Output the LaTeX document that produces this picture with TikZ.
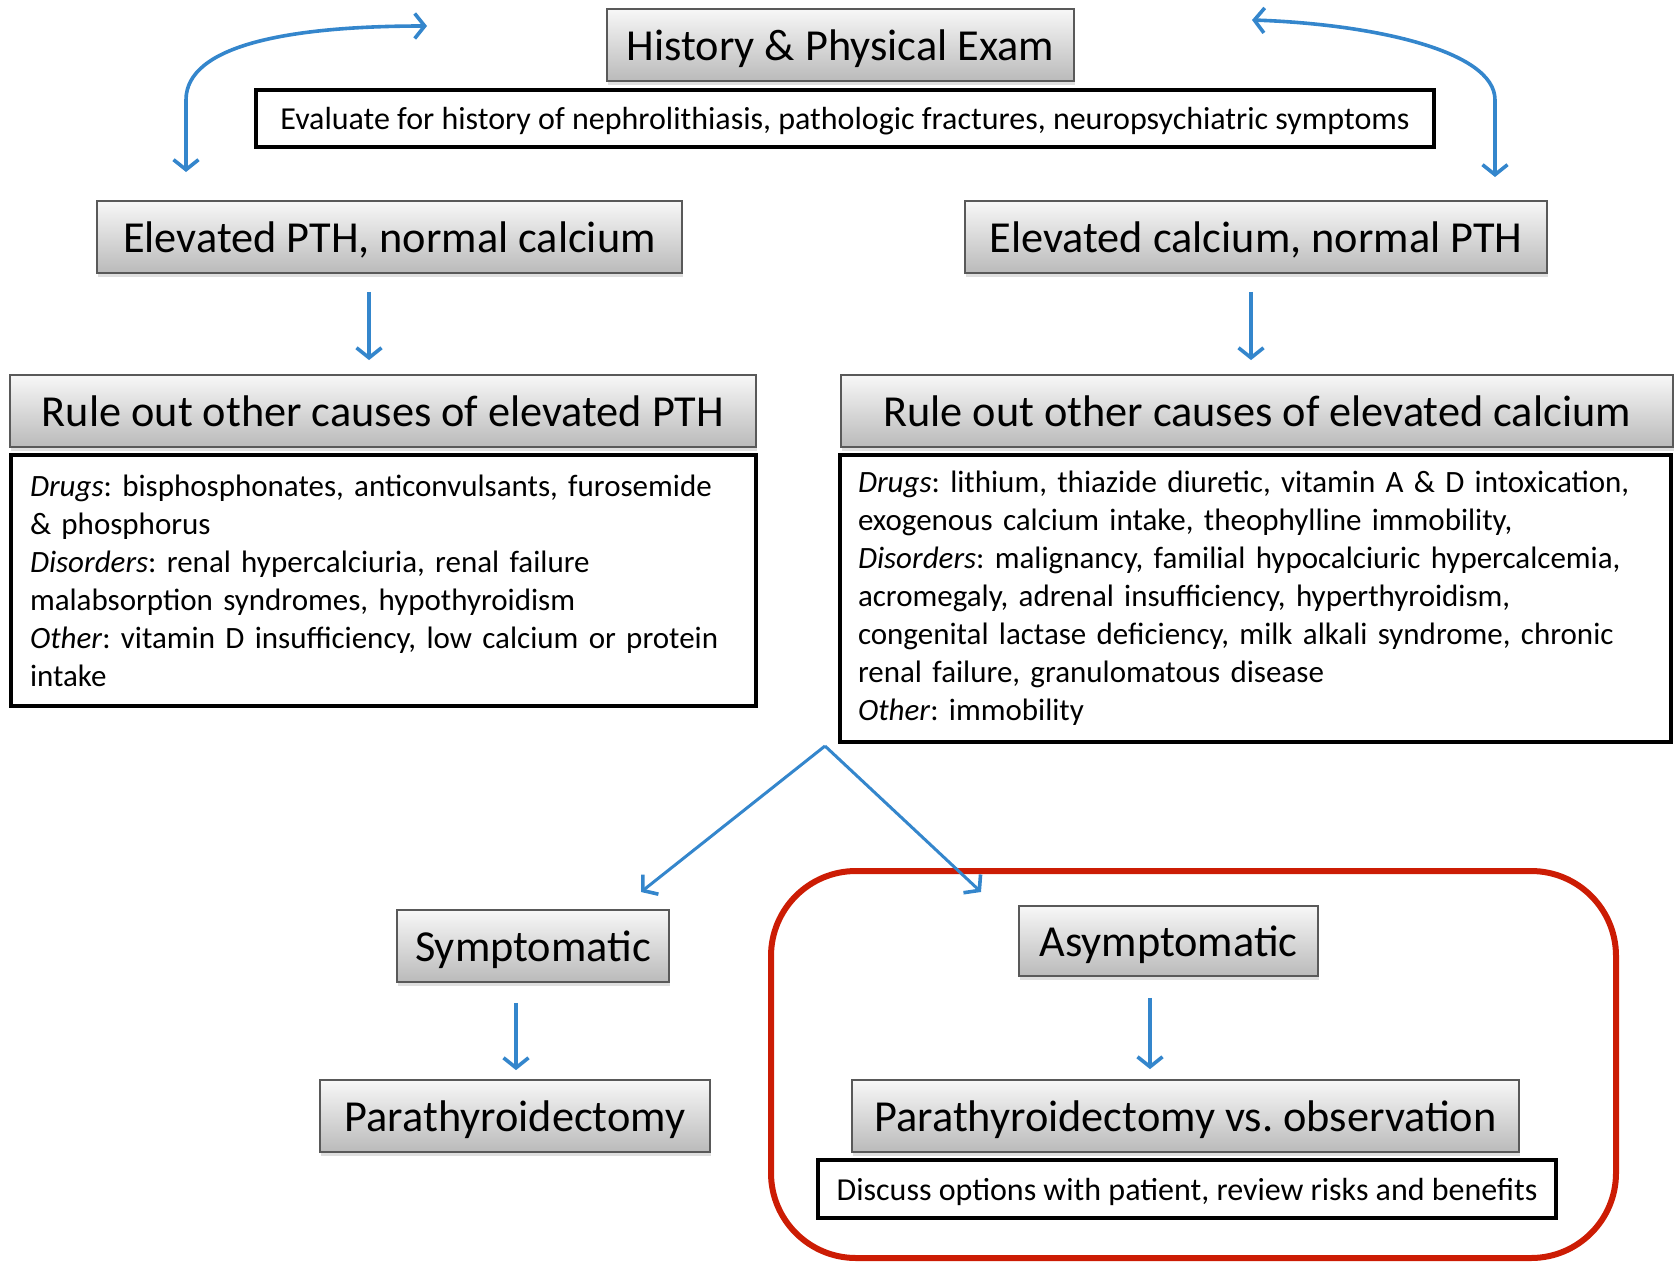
\documentclass[tikz,border=0pt]{standalone}
\usepackage{fontspec}
\setmainfont{Carlito}
\usepackage{xcolor}
\usetikzlibrary{arrows.meta}
\usetikzlibrary{shadows, math}
\definecolor{myblue}{RGB}{52,134,204}
\definecolor{myred}{RGB}{204,28,4}
\frenchspacing
\hyphenpenalty=10000
\exhyphenpenalty=10000

\tikzset{
  graybox/.style={draw=black!65, line width=1.8pt, top color=black!3, bottom color=black!27,
    drop shadow={opacity=0.25, shadow xshift=1pt, shadow yshift=-4pt},
    inner sep=0pt, text height=35pt, text depth=4pt, font=\fontsize{44.3}{50}\selectfont},
  textbox/.style={draw=black, line width=3.8pt, fill=white, inner sep=0pt,
    text height=25pt, text depth=3pt, font=\fontsize{32}{38}\selectfont},
  listbox/.style={draw=black, line width=3.8pt, fill=white, align=left, inner ysep=0pt,
    font=\fontsize{31}{38}\selectfont},
  barb/.tip={Straight Barb[length=10pt,width=25pt,line width=3.6pt]},
  flow/.style={myblue, line width=3.6pt, -barb},
  twoflow/.style={myblue, line width=3.6pt, barb-barb},
}

\begin{document}
\begin{tikzpicture}[x=1pt, y=-1pt]
\useasboundingbox (0,0) rectangle (1675,1263);

% top
\node[graybox, minimum width=467pt, minimum height=72pt] (hist) at (840.5,45) {History \& Physical Exam};
\node[textbox, minimum width=1178pt, minimum height=57pt] (eval) at (845,118.5)
  {Evaluate for history of nephrolithiasis, pathologic fractures, neuropsychiatric symptoms};

% two branches
\node[graybox, minimum width=585pt, minimum height=72pt] (pthup) at (389.5,237) {Elevated PTH, normal calcium};
\node[graybox, minimum width=582pt, minimum height=72pt] (caup) at (1256,237) {Elevated calcium, normal PTH};

\node[graybox, minimum width=746pt, minimum height=72pt] (pthrule) at (383,411) {Rule out other causes of elevated PTH};
\node[graybox, minimum width=832pt, minimum height=72pt] (carule) at (1257,411) {Rule out other causes of elevated calcium};

\node[listbox, text width=707pt, inner xsep=19pt, minimum height=251pt] (pthlist) at (383.5,580.5)
  {\textit{Drugs}: bisphosphonates, anticonvulsants, furosemide\\
   \& phosphorus\\
   \textit{Disorders}: renal hypercalciuria, renal failure\\
   malabsorption syndromes, hypothyroidism\\
   \textit{Other}: vitamin D insufficiency, low calcium or protein\\
   intake};
\node[listbox, text width=795pt, inner xsep=18pt, minimum height=287pt] (calist) at (1255.5,598.5)
  {\textit{Drugs}: lithium, thiazide diuretic, vitamin A \& D intoxication,\\
   exogenous calcium intake, theophylline immobility,\\
   \textit{Disorders}: malignancy, familial hypocalciuric hypercalcemia,\\
   acromegaly, adrenal insufficiency, hyperthyroidism,\\
   congenital lactase deficiency, milk alkali syndrome, chronic\\
   renal failure, granulomatous disease\\
   \textit{Other}: immobility};

% bottom
\node[graybox, minimum width=272pt, minimum height=72pt] (sym) at (533,946) {Symptomatic};
\node[graybox, minimum width=390pt, minimum height=72pt] (pty) at (515,1116) {Parathyroidectomy};
\node[graybox, minimum width=299pt, minimum height=70pt] (asym) at (1168.5,941) {Asymptomatic};
\node[graybox, minimum width=667pt, minimum height=72pt] (ptyobs) at (1185.5,1116) {Parathyroidectomy vs. observation};
\node[textbox, minimum width=738pt, minimum height=58pt] (disc) at (1187,1189)
  {Discuss options with patient, review risks and benefits};

\draw[myred, line width=6pt, rounded corners=85pt] (771,871) rectangle (1616,1258);

% arrows
\coordinate (ltop) at (427,26);
\coordinate (lbot) at (186,172);
\coordinate (rtop) at (1252,20);
\coordinate (rbot) at (1495,177);
\draw[twoflow] (lbot) -- (186,100) .. controls (186,45) and (290,26) .. (ltop);
\draw[twoflow] (rtop) .. controls (1370,24) and (1495,50) .. (1495,100) -- (rbot);

\coordinate (pthax) at (369,0);
\coordinate (caax) at (1251,0);
\coordinate (symax) at (516,0);
\coordinate (asymax) at (1150,0);
\draw[flow, shorten <=18pt, shorten >=14pt] (pthup.south -| pthax) -- (pthrule.north -| pthax);
\draw[flow, shorten <=18pt, shorten >=14pt] (caup.south -| caax) -- (carule.north -| caax);

\coordinate (fork) at (825,746);
\coordinate (symtip) at (641,892);
\coordinate (asymtip) at (981,892);
\draw[flow, line width=3pt] (fork) -- (symtip);
\draw[flow, line width=3pt] (fork) -- (asymtip);

\draw[flow, shorten <=20pt, shorten >=9pt] (sym.south -| symax) -- (pty.north -| symax);
\draw[flow, shorten <=21pt, shorten >=10pt] (asym.south -| asymax) -- (ptyobs.north -| asymax);
\end{tikzpicture}
\end{document}
